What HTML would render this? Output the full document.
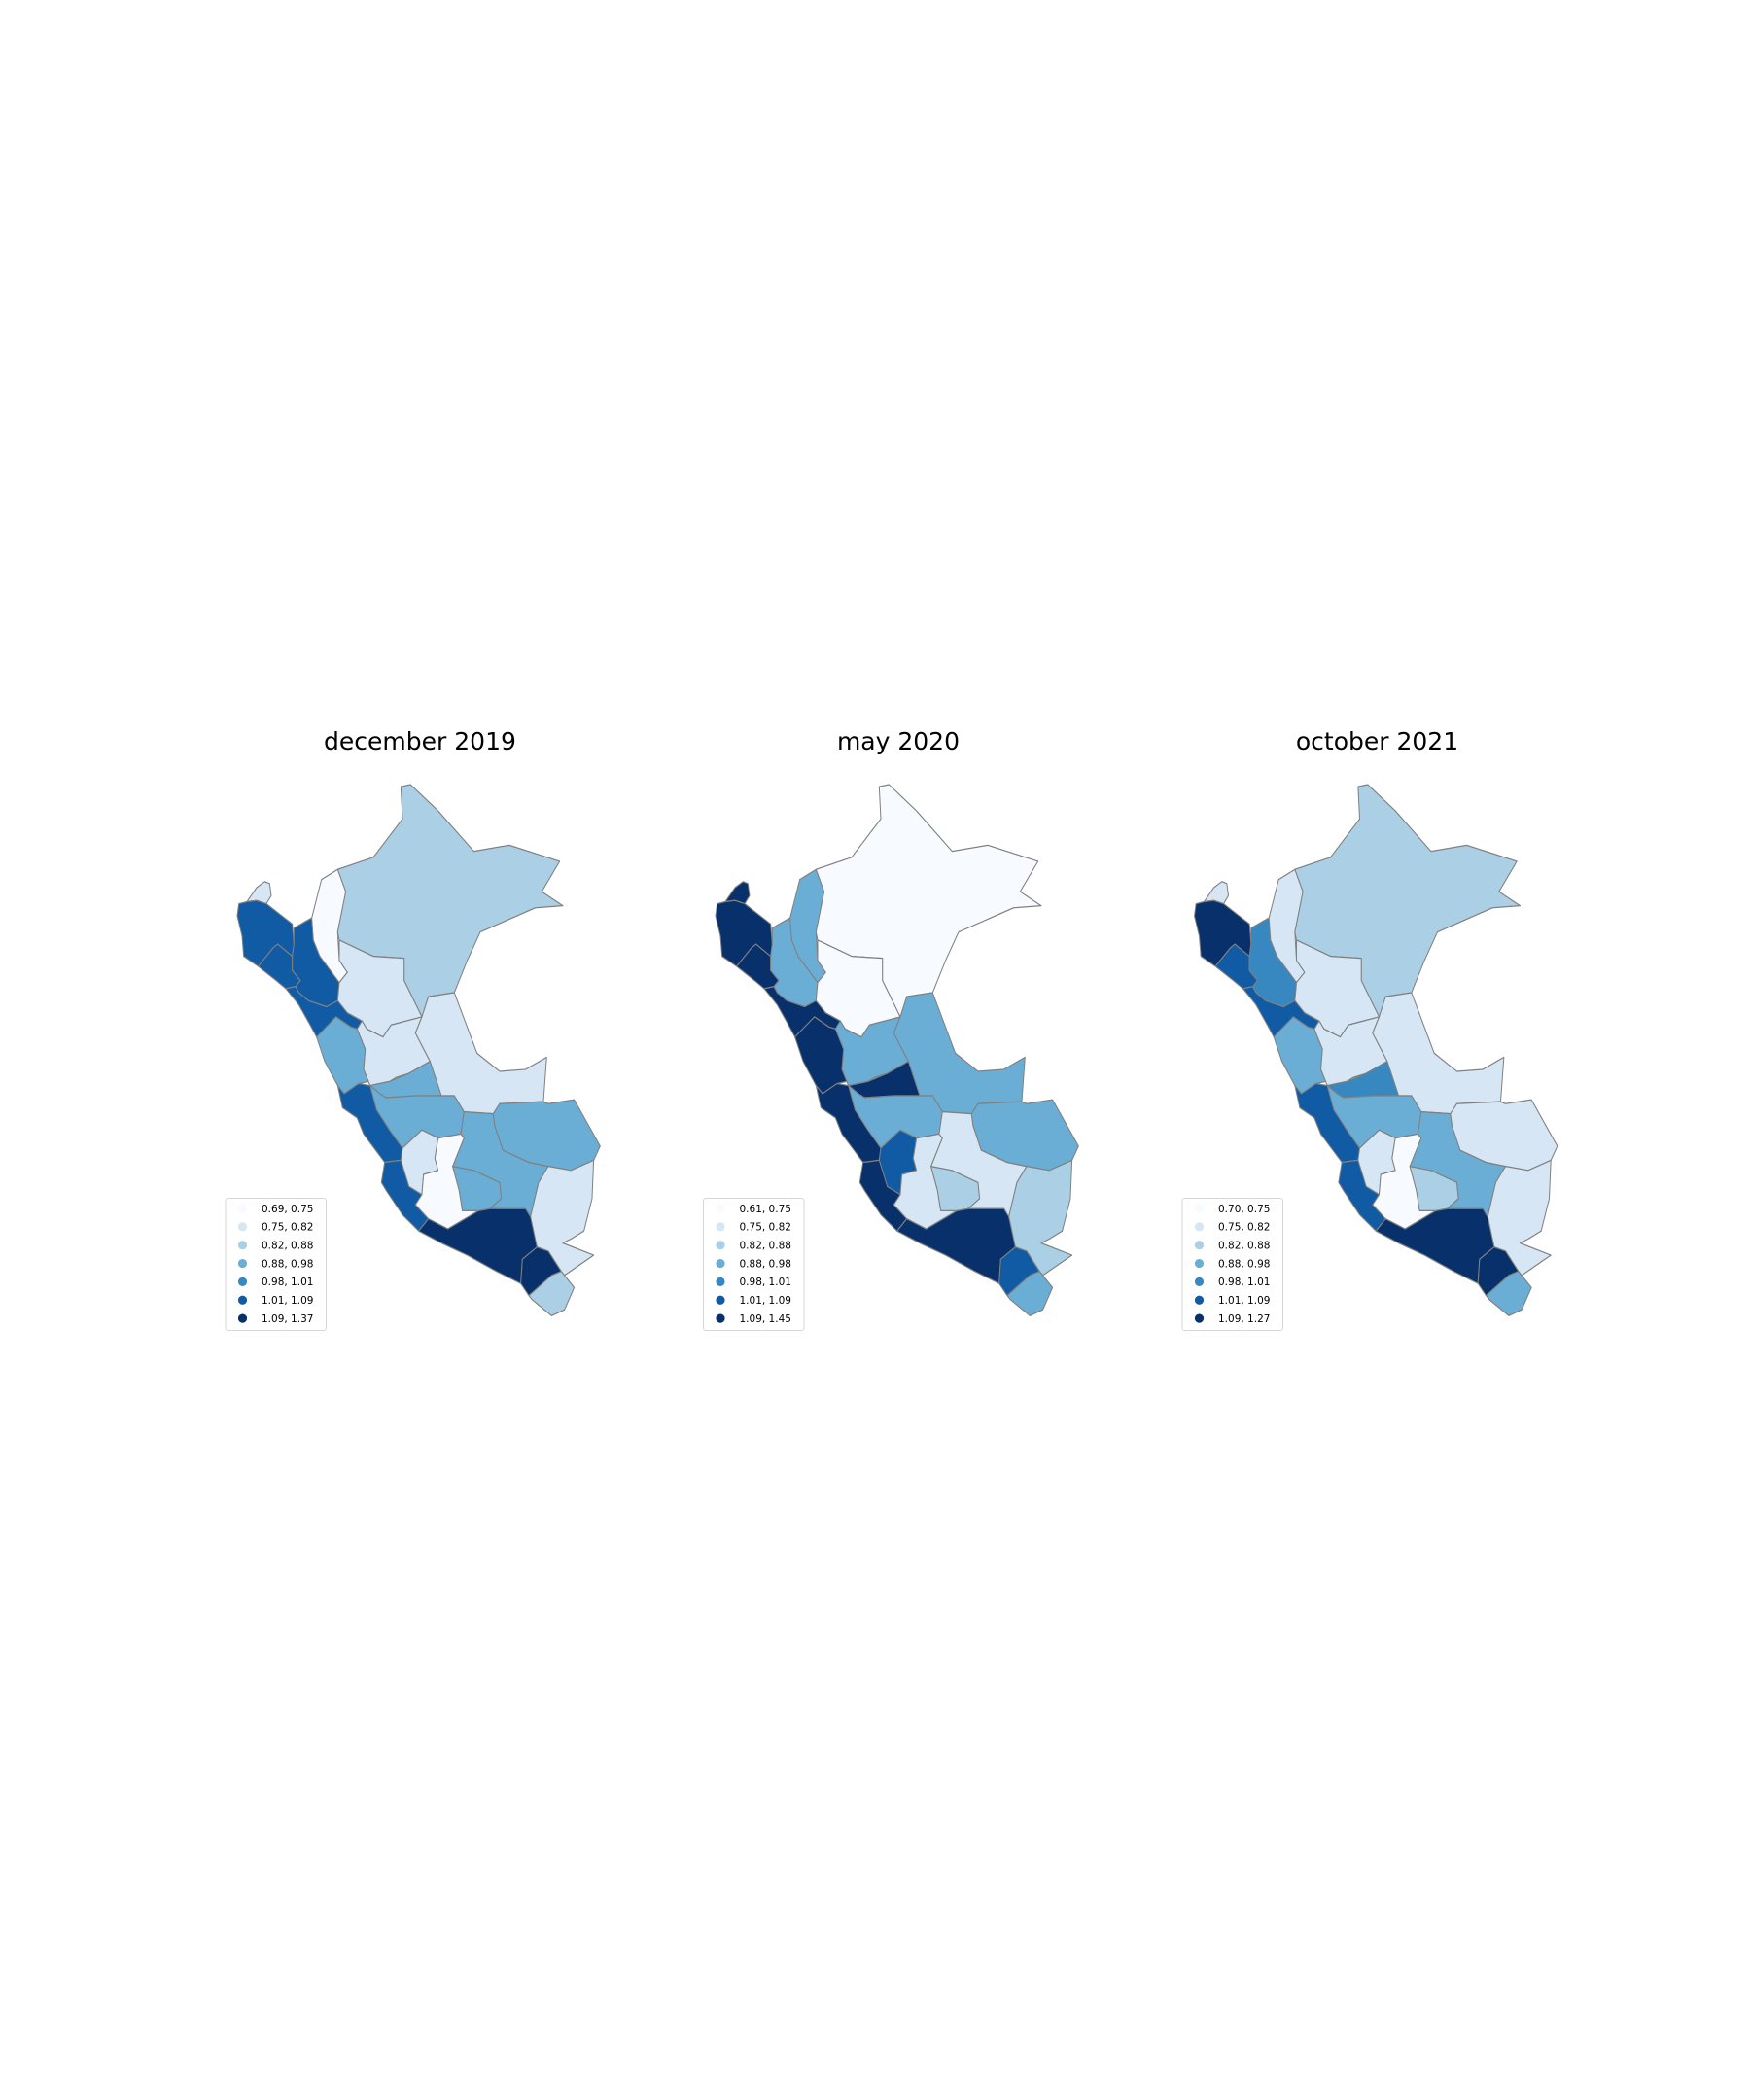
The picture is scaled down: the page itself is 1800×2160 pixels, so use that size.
<!DOCTYPE html>
<html><head><meta charset="utf-8">
<style>
html,body{margin:0;padding:0;background:#fff;}
svg{display:block;}
text{font-family:"DejaVu Sans","Liberation Sans",sans-serif;}
</style></head>
<body>
<svg id="fig" width="1800" height="2160" viewBox="0 0 1800 2160" xmlns="http://www.w3.org/2000/svg">
<rect width="1800" height="2160" fill="#ffffff"/>
</svg>
<script>
// ---- data ----
const panelTitles = ["december 2019", "may 2020", "october 2021"];
const regionNames = ["tumbes","piura","lambayeque","cajamarca","la-libertad","amazonas","loreto","san-martin","huanuco","ucayali","ancash","pasco","junin","lima","huancavelica","ica","ayacucho","apurimac","cusco","madre-de-dios","puno","arequipa","moquegua","tacna"];
const valuesDec2019 = [0.78,1.05,1.05,1.05,1.05,0.72,0.85,0.78,0.78,0.78,0.93,0.93,0.93,1.05,0.78,1.05,0.72,0.93,0.93,0.93,0.78,1.20,1.20,0.85];
const valuesMay2020 = [1.20,1.20,1.20,0.93,1.20,0.93,0.70,0.70,0.93,0.93,1.20,1.20,0.93,1.20,1.05,1.20,0.78,0.85,0.78,0.93,0.85,1.20,1.05,0.93];
const valuesOct2021 = [0.78,1.15,1.05,0.99,1.05,0.78,0.85,0.78,0.78,0.78,0.93,0.99,0.93,1.05,0.78,1.05,0.72,0.85,0.93,0.78,0.78,1.15,1.15,0.93];
const binEdgesDec2019 = [0.69,0.75,0.82,0.88,0.98,1.01,1.09,1.37];
const binEdgesMay2020 = [0.61,0.75,0.82,0.88,0.98,1.01,1.09,1.45];
const binEdgesOct2021 = [0.70,0.75,0.82,0.88,0.98,1.01,1.09,1.27];

// ---- geometry & style (not data) ----
const colors = ["#f7fbff","#d6e6f4","#abd0e6","#6aaed6","#3787c0","#105ba4","#08306b"];
const geom = {
"tumbes":"100,465 130,430 155,415 170,420 175,450 160,470 130,462",
"piura":"75,470 100,465 130,462 160,470 200,495 240,520 245,570 240,600 195,570 180,580 135,625 90,600 85,550 70,500",
"lambayeque":"135,625 180,580 195,570 240,600 240,635 265,660 250,675 220,680 190,660",
"cajamarca":"245,530 300,505 305,560 325,600 385,665 380,710 345,725 290,710 260,690 250,675 265,660 240,635 240,600 245,570",
"la-libertad":"220,680 250,675 260,690 290,710 345,725 380,710 410,740 455,760 440,780 420,775 375,750 315,800 295,770 260,720",
"amazonas":"300,505 330,410 380,385 405,440 380,540 385,610 410,640 385,665 325,600 305,560",
"loreto":"380,385 490,355 580,260 575,180 605,175 690,240 800,340 910,325 1065,365 1010,440 1075,475 990,480 820,540 780,610 740,690 660,700 640,750 585,660 585,605 490,600 385,560 380,540 405,440",
"san-martin":"385,560 490,600 585,605 585,660 640,750 545,770 520,800 470,780 455,760 410,740 380,710 385,665 410,640 385,610",
"huanuco":"545,770 640,750 620,790 665,860 600,890 560,900 540,910 480,920 460,880 465,830 440,780 455,760 470,780 520,800",
"ucayali":"660,700 740,690 810,840 880,885 960,880 1025,850 1015,960 880,965 860,990 770,985 740,945 700,945 665,860 620,790 640,750",
"ancash":"315,800 375,750 420,775 440,780 465,830 460,880 475,910 445,915 400,940 380,920 340,860",
"pasco":"480,920 540,910 600,890 665,860 700,945 620,945 530,950 510,940",
"junin":"480,920 510,940 530,950 620,945 700,945 740,945 770,985 760,1040 690,1050 640,1030 580,1075 540,1030 500,980",
"lima":"380,920 400,940 445,915 480,920 500,980 540,1030 580,1075 575,1105 525,1110 460,1040 440,1000 395,975",
"huancavelica":"575,1105 580,1075 640,1030 690,1050 680,1100 690,1130 645,1140 640,1190 600,1170",
"ica":"525,1110 575,1105 600,1170 640,1190 620,1215 660,1250 630,1280 580,1240 530,1180 515,1160",
"ayacucho":"690,1050 760,1040 770,1050 735,1120 755,1180 765,1230 815,1230 720,1275 660,1250 620,1215 640,1190 645,1140 690,1130 680,1100",
"apurimac":"735,1120 800,1130 880,1160 885,1200 850,1225 815,1230 765,1230 755,1180",
"cusco":"770,985 860,990 865,1020 890,1080 970,1110 1030,1120 1000,1160 975,1245 960,1225 890,1225 850,1225 885,1200 880,1160 800,1130 735,1120 770,1050 760,1040",
"madre-de-dios":"860,990 880,965 1015,960 1030,965 1110,955 1190,1070 1170,1105 1100,1130 1030,1120 970,1110 890,1080 865,1020",
"puno":"1030,1120 1100,1130 1170,1105 1165,1200 1140,1280 1100,1300 1075,1310 1170,1340 1080,1390 1070,1380 1030,1330 995,1320 975,1245 1000,1160",
"arequipa":"630,1280 660,1250 720,1275 815,1230 850,1225 890,1225 960,1225 975,1245 995,1320 950,1350 945,1410 870,1380 780,1340 700,1310",
"moquegua":"995,1320 1030,1330 1070,1380 1040,1390 970,1440 945,1410 950,1350",
"tacna":"970,1440 1040,1390 1070,1380 1110,1420 1080,1475 1040,1490 980,1450"
};
const panelTx = [220.67, 712.67, 1205.2];
const legendX = [232, 723.5, 1216];

const NS = "http://www.w3.org/2000/svg";
const fig = document.getElementById('fig');
const panelValues = [valuesDec2019, valuesMay2020, valuesOct2021];
const panelEdges = [binEdgesDec2019, binEdgesMay2020, binEdgesOct2021];

function classify(v, edges){
  for (let k = 1; k < edges.length - 1; k++) { if (v <= edges[k]) return k - 1; }
  return edges.length - 2;
}
function mk(tag, attrs){ const e = document.createElementNS(NS, tag); for (const k in attrs) e.setAttribute(k, attrs[k]); return e; }

panelTitles.forEach((title, p) => {
  const g = mk('g', {});
  
  
  fig.appendChild(g);
  const centerX = panelTx[p] + 211.3;
  const t = mk('text', {x: centerX, y: 771, 'text-anchor': 'middle', 'font-size': 25, fill: '#000'});
  t.textContent = title;
  
  
  g.appendChild(t);
  const mg = mk('g', {transform: 'translate(' + panelTx[p] + ',734.3) scale(0.3333,0.4155)'});
  
  
  g.appendChild(mg);
  regionNames.forEach((r, i) => {
    const cls = classify(panelValues[p][i], panelEdges[p]);
    const poly = mk('polygon', {points: geom[r], fill: colors[cls], stroke: '#808080', 'stroke-width': 3, 'stroke-linejoin': 'round'});
    
    
    mg.appendChild(poly);
  });
  // legend
  const lg = mk('g', {});
  
  
  g.appendChild(lg);
  const lx = legendX[p];
  const box = mk('rect', {x: lx, y: 1232.5, width: 103.5, height: 136, rx: 2.5, fill: '#fff', stroke: '#d6d6d6', 'stroke-width': 1});
  
  
  lg.appendChild(box);
  const edges = panelEdges[p];
  for (let k = 0; k < edges.length - 1; k++) {
    const yy = 1243 + k * 18.85;
    const c = mk('circle', {cx: lx + 17.5, cy: yy, r: 4.6, fill: colors[k]});
    
    
    lg.appendChild(c);
    const tx = mk('text', {x: lx + 37, y: yy + 3.8, 'font-size': 10.5, fill: '#000'});
    tx.textContent = edges[k].toFixed(2) + ', ' + edges[k+1].toFixed(2);
    
    
    lg.appendChild(tx);
  }
});
</script>
</body></html>
